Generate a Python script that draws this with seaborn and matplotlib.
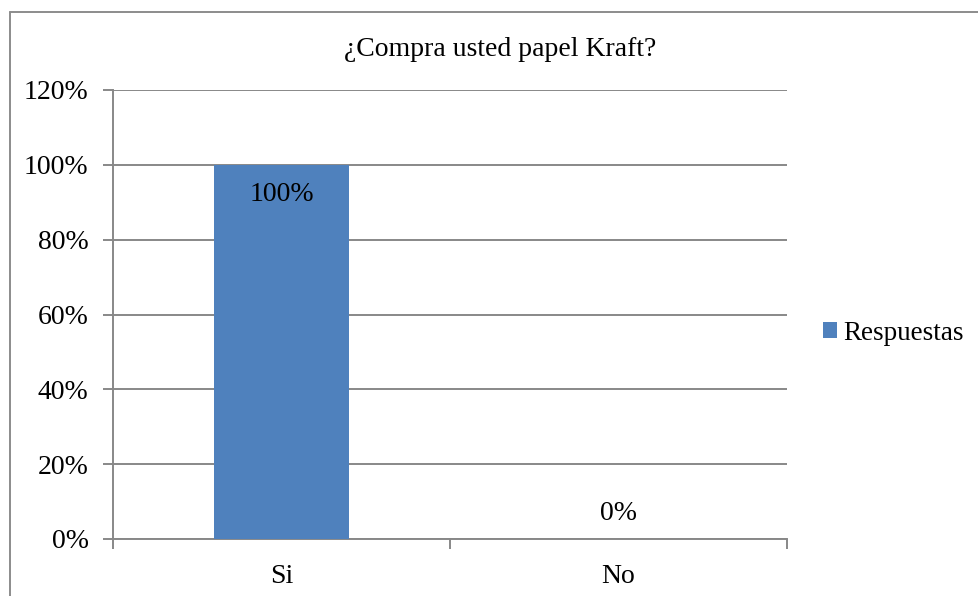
import matplotlib
matplotlib.use("Agg")
from matplotlib import pyplot as plt
from matplotlib.lines import Line2D
from matplotlib.ticker import PercentFormatter, FixedLocator
import seaborn as sns
import pandas as pd

TITLE = '¿Compra usted papel Kraft?'
SERIES_NAME = 'Respuestas'
categories = ['Si', 'No']
values = [1.00, 0.00]
value_labels = ['100%', '0%']
y_ticks = [0.0, 0.2, 0.4, 0.6, 0.8, 1.0, 1.2]

BAR_COLOR = '#4F81BD'
GRID_COLOR = '#888888'
FONT_SIZE = 20

sns.set_style('white')
plt.rcParams['font.family'] = ['Liberation Serif', 'DejaVu Serif']
plt.rcParams['text.color'] = 'black'
plt.rcParams['xtick.color'] = 'black'
plt.rcParams['ytick.color'] = 'black'

W, H = 979, 596
fig = plt.figure(figsize=(W / 100, H / 100), dpi=100)
ax = fig.add_axes([113 / W, 1 - 539 / H, (787 - 113) / W, (539 - 90) / H])

df = pd.DataFrame({'cat': categories, 'val': values})
sns.barplot(data=df, x='cat', y='val', color=BAR_COLOR, width=0.4,
            saturation=1, linewidth=0, label=SERIES_NAME, ax=ax, zorder=3)

ax.set_xlim(-0.5, len(categories) - 0.5)
ax.set_ylim(0, 1.2)
ax.yaxis.set_major_locator(FixedLocator(y_ticks))
ax.yaxis.set_major_formatter(PercentFormatter(1.0, decimals=0))
ax.set_xlabel('')
ax.set_ylabel('')
fig.text(500 / W, 1 - 50 / H, TITLE, ha='center', va='center', fontsize=FONT_SIZE)

for y in y_ticks:
    ax.axhline(y, color=GRID_COLOR, lw=1.4, zorder=1)

for s in ['top', 'right']:
    ax.spines[s].set_visible(False)
for s in ['left', 'bottom']:
    ax.spines[s].set_color(GRID_COLOR)
    ax.spines[s].set_linewidth(1.4)

ax.tick_params(axis='y', which='major', length=7, width=1.4, color=GRID_COLOR,
               labelsize=FONT_SIZE, pad=10.5, left=True)
ax.tick_params(axis='x', which='major', length=0, labelsize=FONT_SIZE, pad=18)
ax.set_xticks([i - 0.5 for i in range(len(categories) + 1)], minor=True)
ax.tick_params(axis='x', which='minor', length=7, width=1.4, color=GRID_COLOR,
               bottom=True)

# data labels: inside top of bar, or just above the axis for empty bars
for i, (v, lab) in enumerate(zip(values, value_labels)):
    if v > 0.1:
        ax.text(i, v - 0.045, lab, ha='center', va='top', fontsize=FONT_SIZE, zorder=4)
    else:
        ax.text(i, v + 0.035, lab, ha='center', va='bottom', fontsize=FONT_SIZE, zorder=4)

ax.legend(loc='center left', bbox_to_anchor=(823 / W, 1 - 333 / H),
          bbox_transform=fig.transFigure, frameon=False, fontsize=19.5,
          handlelength=0.5, handleheight=0.5, handletextpad=0.25, borderpad=0,
          borderaxespad=0)

# chart frame (left and top edges visible in the source)
fig.add_artist(Line2D([10 / W, 10 / W], [0, 1 - 12 / H], transform=fig.transFigure,
                      color='#8c8c8c', lw=1.4))
fig.add_artist(Line2D([10 / W, 1], [1 - 12 / H, 1 - 12 / H], transform=fig.transFigure,
                      color='#8c8c8c', lw=1.4))

fig.savefig('out.png', dpi=100)
